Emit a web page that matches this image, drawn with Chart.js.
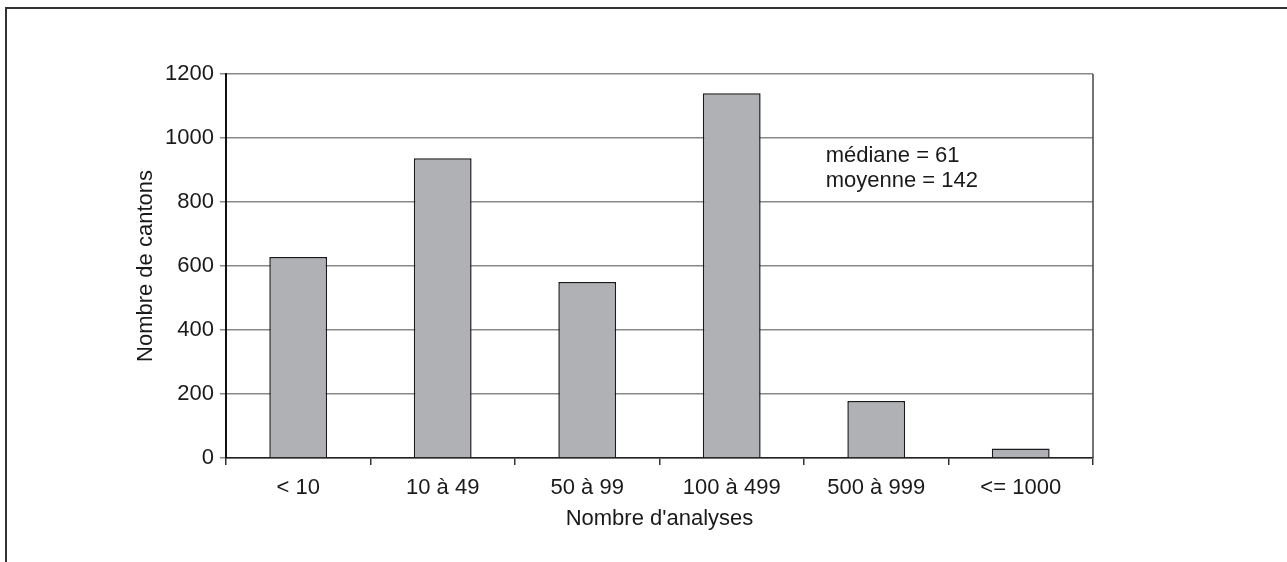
<!DOCTYPE html>
<html>
<head>
<meta charset="utf-8">
<script src="https://cdn.jsdelivr.net/npm/chart.js@4"></script>
<style>
  html, body { margin: 0; padding: 0; background: #fff; }
  #wrap { position: relative; width: 1287px; height: 562px; overflow: hidden; }
  #frame {
    position: absolute; left: 5px; top: 7px; width: 1400px; height: 700px;
    border-left: 2px solid #333; border-top: 2px solid #333;
  }
  canvas { position: absolute; left: 0; top: 0; }
</style>
</head>
<body>
<div id="wrap">
  <div id="frame"></div>
  <canvas id="chart" width="1287" height="562"></canvas>
</div>
<script>
// data
const categories = ["< 10", "10 à 49", "50 à 99", "100 à 499", "500 à 999", "<= 1000"];
const cantons = [628, 937, 550, 1140, 178, 30];
const yTicks = [0, 200, 400, 600, 800, 1000, 1200];
const noteLines = ["médiane = 61", "moyenne = 142"];

const FONT = "'Liberation Sans', Arial, sans-serif";
const SIZE = 22;

// frame on the right of the plot + stats note
const plotExtras = {
  id: "plotExtras",
  afterDraw(chart) {
    const { ctx, chartArea, scales } = chart;
    ctx.save();
    ctx.strokeStyle = "#444";
    ctx.lineWidth = 1.5;
    ctx.beginPath();
    ctx.moveTo(chartArea.right, chartArea.top);
    ctx.lineTo(chartArea.right, chartArea.bottom);
    ctx.stroke();

    ctx.fillStyle = "#1a1a1a";
    ctx.font = SIZE + "px " + FONT;
    ctx.textBaseline = "middle";
    ctx.textAlign = "left";
    const x = scales.x.getPixelForValue(3.65);
    noteLines.forEach((t, i) => {
      ctx.fillText(t, x, scales.y.getPixelForValue(944 - i * 78));
    });
    ctx.restore();
  }
};

const ctx = document.getElementById("chart").getContext("2d");
new Chart(ctx, {
  type: "bar",
  data: {
    labels: categories,
    datasets: [{
      data: cantons,
      backgroundColor: "#b0b1b5",
      borderColor: "#1a1a1a",
      borderWidth: 1.5,
      barPercentage: 0.4,
      categoryPercentage: 1
    }]
  },
  options: {
    responsive: false,
    animation: false,
    layout: { padding: { left: 135, right: 194, top: 74, bottom: 35 } },
    plugins: { legend: { display: false }, tooltip: { enabled: false } },
    scales: {
      x: {
        grid: { drawOnChartArea: false, tickLength: 7, color: "#333", lineWidth: 1.5 },
        border: { color: "#222", width: 1.5 },
        ticks: { color: "#1a1a1a", font: { family: FONT, size: SIZE, lineHeight: 1 }, padding: 12 },
        title: {
          display: true, text: "Nombre d'analyses", color: "#1a1a1a",
          font: { family: FONT, size: SIZE, lineHeight: "16px" }, padding: { top: 0, bottom: 0 }
        }
      },
      y: {
        min: 0, max: 1200,
        afterBuildTicks: (scale) => { scale.ticks = yTicks.map((v) => ({ value: v })); },
        grid: { color: "#888", lineWidth: 1.5, tickLength: 6 },
        border: { color: "#111", width: 2 },
        ticks: {
          color: "#1a1a1a", font: { family: FONT, size: SIZE }, padding: 6,
          callback: (v) => String(v)
        },
        title: {
          display: true, text: "Nombre de cantons", color: "#1a1a1a",
          font: { family: FONT, size: SIZE, lineHeight: 1 }, padding: { top: 0, bottom: 2 }
        }
      }
    }
  },
  plugins: [plotExtras]
});
</script>
</body>
</html>
